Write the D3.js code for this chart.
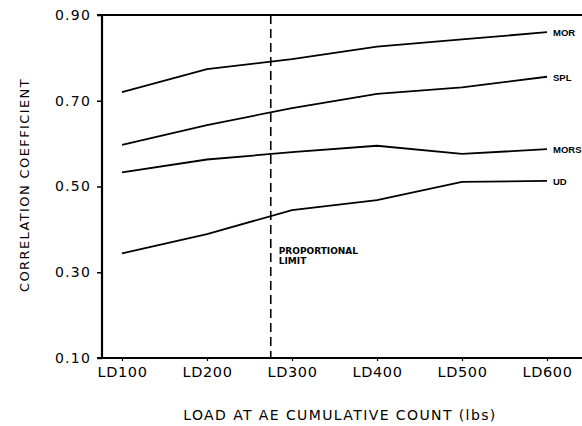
<!DOCTYPE html>
<html>
<head>
<meta charset="utf-8">
<script src="https://cdn.jsdelivr.net/npm/d3@7"></script>
<style>
  body { margin: 0; background: #fff; overflow: hidden; }
  svg { display: block; }
  text { font-family: "DejaVu Sans", sans-serif; fill: #000; }
</style>
</head>
<body>
<div id="chart"></div>
<script>
// loads (lbs) and tick labels
var loads      = [100, 200, 300, 400, 500, 600]
var tickLabels = ["LD100", "LD200", "LD300", "LD400", "LD500", "LD600"]
var yTicks     = [0.10, 0.30, 0.50, 0.70, 0.90]

// correlation coefficients
var mor  = [0.720, 0.774, 0.797, 0.826, 0.843, 0.860]
var spl  = [0.597, 0.643, 0.683, 0.716, 0.731, 0.756]
var mors = [0.533, 0.563, 0.580, 0.595, 0.576, 0.587]
var ud   = [0.344, 0.389, 0.445, 0.468, 0.511, 0.513]
var seriesNames = ["MOR", "SPL", "MORS", "UD"]
var seriesData  = [mor, spl, mors, ud]

var propLimit = 275

var svgWidth  = 582
var svgHeight = 426
var plotLeft = 102, plotRight = 582, plotTop = 15, plotBottom = 358

var svg = d3.select("#chart")
  .append("svg")
  .attr("width", svgWidth)
  .attr("height", svgHeight)

var x = d3.scaleLinear()
  .domain([100, 600])
  .range([122, 547])

var y = d3.scaleLinear()
  .domain([0.10, 0.90])
  .range([plotBottom, plotTop])

// frame: left axis, top and bottom lines
svg.append("line")
  .attr("x1", plotLeft).attr("x2", plotLeft)
  .attr("y1", plotTop).attr("y2", plotBottom)
  .attr("stroke", "#000").attr("stroke-width", 2.2)
svg.append("line")
  .attr("x1", plotLeft - 5).attr("x2", plotRight)
  .attr("y1", plotTop).attr("y2", plotTop)
  .attr("stroke", "#000").attr("stroke-width", 2)
svg.append("line")
  .attr("x1", plotLeft - 5).attr("x2", plotRight)
  .attr("y1", plotBottom).attr("y2", plotBottom)
  .attr("stroke", "#000").attr("stroke-width", 2)

// y axis
var yAxis = d3.axisLeft(y)
  .tickValues(yTicks)
  .tickFormat(d3.format(".2f"))
  .tickSize(5)
  .tickPadding(6)
var gy = svg.append("g")
  .attr("transform", "translate(" + plotLeft + ",0)")
  .call(yAxis)
gy.select(".domain").remove()
gy.selectAll("line").attr("stroke", "#000").attr("stroke-width", 1.5)
gy.selectAll("text")
  .style("font-size", "14px")
  .style("letter-spacing", "1.2px")
  .attr("font-family", null)

// x axis
var xAxis = d3.axisBottom(x)
  .tickValues(loads)
  .tickFormat(function(d, i){ return tickLabels[i] })
  .tickSize(4)
  .tickPadding(6)
var gx = svg.append("g")
  .attr("transform", "translate(0," + (plotBottom - 1) + ")")
  .call(xAxis)
gx.select(".domain").remove()
gx.selectAll("line").attr("stroke", "#000").attr("stroke-width", 1.2)
gx.selectAll("text")
  .style("font-size", "14.5px")
  .style("letter-spacing", "0.6px")
  .attr("font-family", null)

// proportional limit
svg.append("line")
  .attr("x1", x(propLimit)).attr("x2", x(propLimit))
  .attr("y1", plotTop).attr("y2", plotBottom)
  .attr("stroke", "#000")
  .attr("stroke-width", 1.6)
  .attr("stroke-dasharray", "9,5")
svg.append("text")
  .attr("x", x(propLimit) + 8).attr("y", 254)
  .style("font-size", "9px").style("font-weight", "bold")
  .text("PROPORTIONAL")
svg.append("text")
  .attr("x", x(propLimit) + 8).attr("y", 264)
  .style("font-size", "9px").style("font-weight", "bold")
  .text("LIMIT")

// series lines
var line = d3.line()
  .x(function(d, i){ return x(loads[i]) })
  .y(function(d){ return y(d) })

seriesData.forEach(function(s, k){
  svg.append("path")
    .attr("d", line(s))
    .attr("fill", "none")
    .attr("stroke", "#000")
    .attr("stroke-width", 1.8)
  svg.append("text")
    .attr("x", x(600) + 6)
    .attr("y", y(s[s.length - 1]) + 4)
    .style("font-family", "'Liberation Sans', sans-serif")
    .style("font-size", "9.5px")
    .style("font-weight", "bold")
    .text(seriesNames[k])
})

// axis titles
svg.append("text")
  .attr("x", 340).attr("y", 420)
  .attr("text-anchor", "middle")
  .style("font-size", "14px")
  .style("letter-spacing", "1.4px")
  .text("LOAD AT AE CUMULATIVE COUNT (lbs)")

svg.append("text")
  .attr("transform", "translate(29,185) rotate(-90)")
  .attr("text-anchor", "middle")
  .style("font-size", "13px")
  .style("letter-spacing", "1.4px")
  .text("CORRELATION COEFFICIENT")
</script>
</body>
</html>
